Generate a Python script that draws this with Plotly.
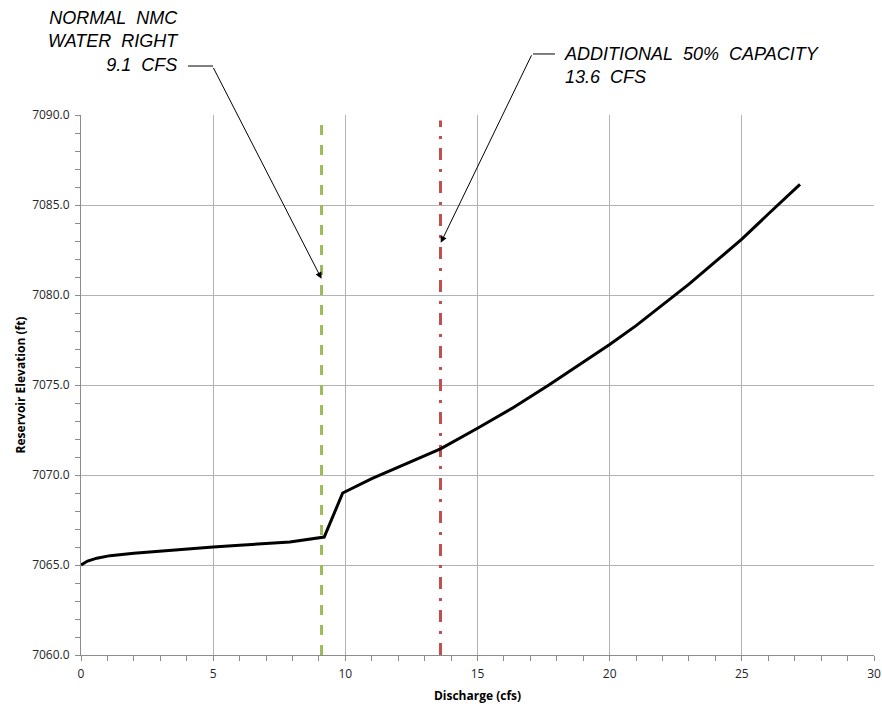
import plotly.graph_objects as go

# Rating curve: discharge (cfs) vs reservoir elevation (ft)
discharge = [0.0, 0.25, 0.6, 1.1, 2.0, 3.0, 4.0, 5.0, 6.0, 7.0, 7.9, 9.2, 9.9,
             11.0, 12.5, 13.6, 15.0, 16.3, 17.7, 19.0, 20.0, 21.0, 22.0, 23.0,
             24.0, 25.0, 26.0, 27.2]
elevation = [7065.0, 7065.22, 7065.38, 7065.52, 7065.65, 7065.78, 7065.89, 7066.0,
             7066.1, 7066.2, 7066.28, 7066.55, 7069.0,
             7069.8, 7070.75, 7071.45, 7072.6, 7073.7, 7075.0, 7076.25, 7077.25,
             7078.3, 7079.45, 7080.6, 7081.85, 7083.1, 7084.5, 7086.15]

nmc_x = [9.1, 9.1]
nmc_y = [7060.0, 7089.5]
cap_x = [13.6, 13.6]
cap_y = [7060.0, 7089.7]

x_ticks = [0, 5, 10, 15, 20, 25, 30]
y_ticks = [7060, 7065, 7070, 7075, 7080, 7085, 7090]

fig = go.Figure()
fig.add_trace(go.Scatter(x=nmc_x, y=nmc_y, mode="lines",
                         line=dict(color="#9BBB59", width=3, dash="10px,10px"),
                         showlegend=False, hoverinfo="skip"))
fig.add_trace(go.Scatter(x=cap_x, y=cap_y, mode="lines",
                         line=dict(color="#C0504D", width=3, dash="12px,9px,3px,9px"),
                         showlegend=False, hoverinfo="skip"))
fig.add_trace(go.Scatter(x=discharge, y=elevation, mode="lines",
                         line=dict(color="black", width=3),
                         showlegend=False))

ann_font = dict(family="Liberation Sans", size=18, color="black")
annotations = [
    dict(x=0.1261, y=1.1357, xref="paper", yref="paper", xanchor="right", yanchor="middle",
         align="right", showarrow=False, font=ann_font,
         text="<i>NORMAL&nbsp; NMC<br>WATER&nbsp; RIGHT<br>9.1&nbsp; CFS</i>"),
    dict(x=0.6070, y=1.0913, xref="paper", yref="paper", xanchor="left", yanchor="middle",
         align="left", showarrow=False, font=ann_font,
         text="<i>ADDITIONAL&nbsp; 50%&nbsp; CAPACITY<br>13.6&nbsp; CFS</i>"),
    # leader arrows
    dict(x=9.1, y=7080.9, ax=4.98, ay=7092.7, xref="x", yref="y", axref="x", ayref="y",
         text="", showarrow=True, arrowhead=2, arrowsize=1.3, arrowwidth=1,
         arrowcolor="black", standoff=0, startstandoff=0),
    dict(x=13.61, y=7082.9, ax=17.07, ay=7093.4, xref="x", yref="y", axref="x", ayref="y",
         text="", showarrow=True, arrowhead=2, arrowsize=1.3, arrowwidth=1,
         arrowcolor="black", standoff=0, startstandoff=0),
]

shapes = [
    dict(type="line", xref="paper", yref="paper", x0=0.1349, x1=0.1665, y0=1.0907, y1=1.0907,
         line=dict(color="black", width=1)),
    dict(type="line", xref="paper", yref="paper", x0=0.5700, x1=0.5977, y0=1.1130, y1=1.1130,
         line=dict(color="black", width=1)),
]

tick_font = dict(family="Open Sans", size=12, color="#262626")
title_font = dict(family="Open Sans", size=12, color="black")

fig.update_layout(
    width=882, height=704,
    margin=dict(l=81, r=8, t=115, b=49),
    paper_bgcolor="white", plot_bgcolor="white",
    annotations=annotations, shapes=shapes,
    xaxis=dict(range=[0, 30], tickvals=x_ticks, ticktext=[str(v) for v in x_ticks],
               automargin=False,
               showgrid=True, gridcolor="#B3B3B3", gridwidth=1,
               showline=True, linecolor="#8C8C8C", linewidth=1,
               ticks="outside", ticklen=5, tickcolor="#8C8C8C", ticklabelstandoff=3,
               minor=dict(dtick=1, ticks="outside", ticklen=5, tickcolor="#8C8C8C", showgrid=False),
               tickfont=tick_font, zeroline=False,
               title=dict(text="<b>Discharge (cfs)</b>", font=title_font, standoff=10)),
    yaxis=dict(range=[7060, 7090], tickvals=y_ticks, ticktext=[f"{v:.1f}" for v in y_ticks],
               automargin=False,
               showgrid=True, gridcolor="#B3B3B3", gridwidth=1,
               showline=True, linecolor="#8C8C8C", linewidth=1,
               ticks="outside", ticklen=5, tickcolor="#8C8C8C", ticklabelstandoff=3,
               minor=dict(dtick=1, ticks="outside", ticklen=5, tickcolor="#8C8C8C", showgrid=False),
               tickfont=tick_font, zeroline=False,
               title=dict(text="<b>Reservoir Elevation (ft)</b>", font=title_font, standoff=3)),
)

fig.write_html("out.html")
